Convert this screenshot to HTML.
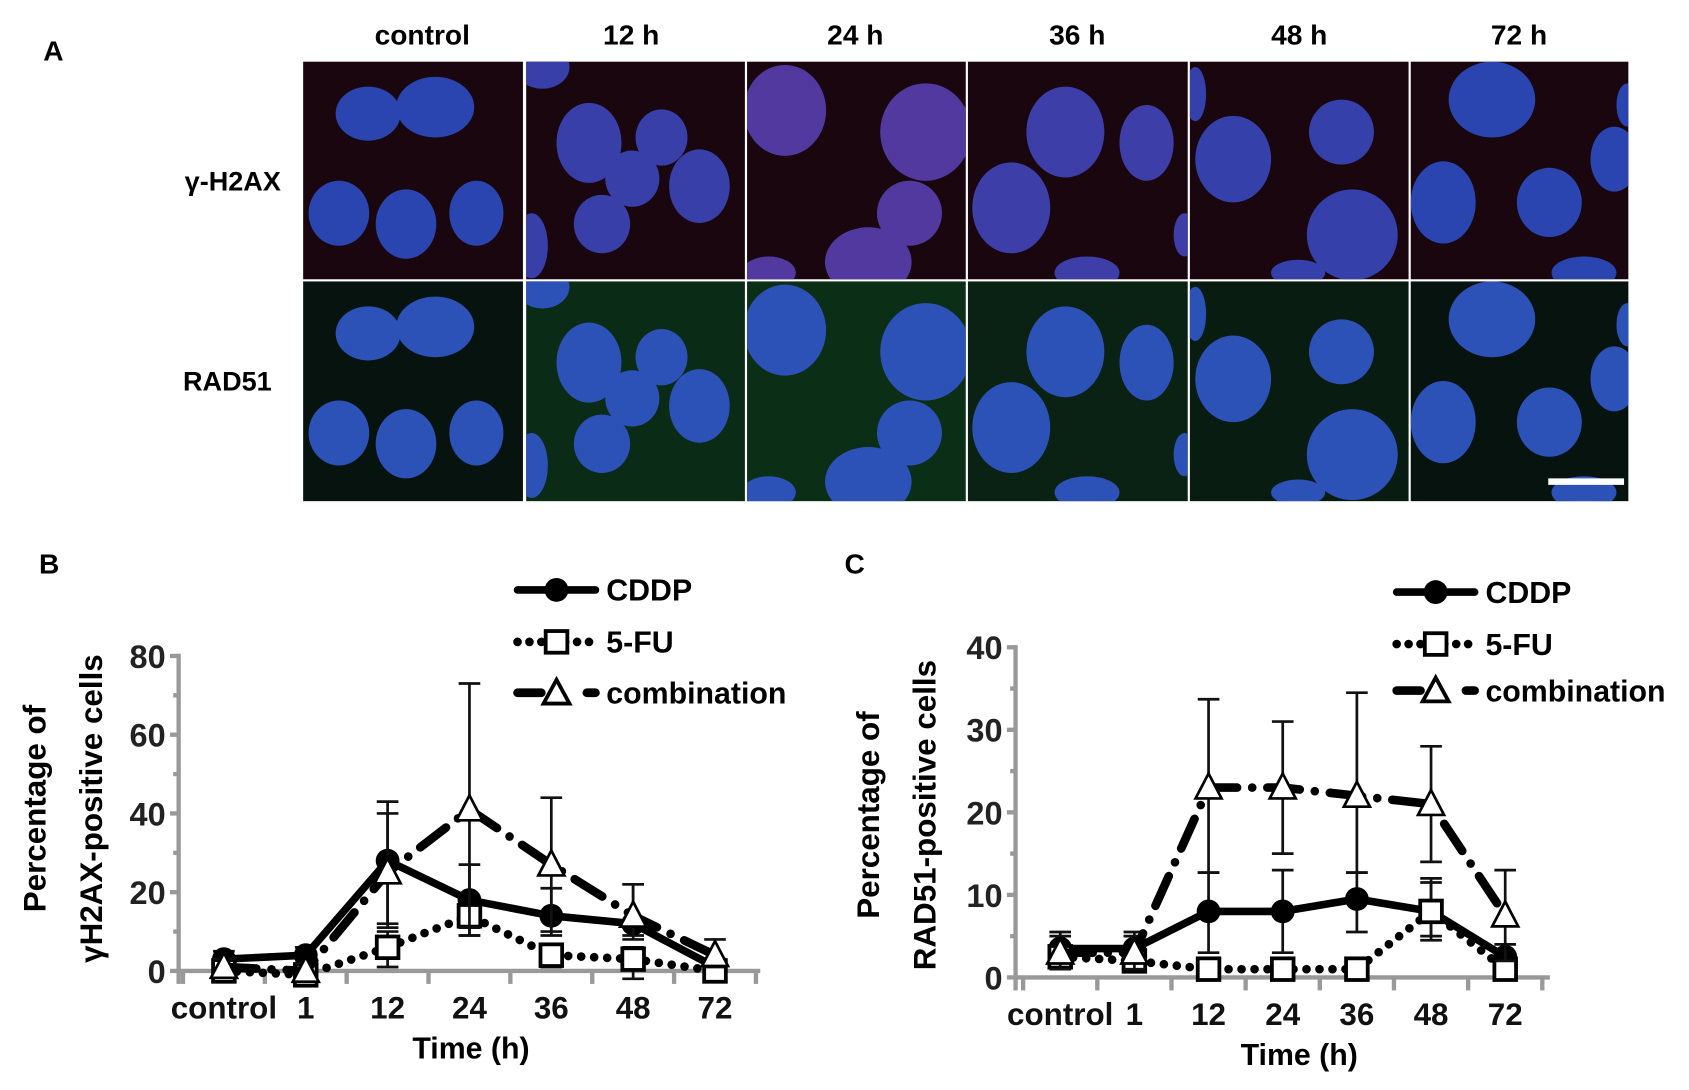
<!DOCTYPE html>
<html><head><meta charset="utf-8"><style>
html,body{margin:0;padding:0;background:#fff;}
svg{display:block;font-family:"Liberation Sans",Arial,sans-serif;font-weight:bold;}
</style></head><body>
<svg id="fig" width="1689" height="1090" viewBox="0 0 1560 1007" preserveAspectRatio="none" xmlns="http://www.w3.org/2000/svg">
<text x="40" y="56" font-size="26">A</text>
<g id="headers" font-size="26" text-anchor="middle">
<text x="390" y="41">control</text>
<text x="583" y="41">12 h</text>
<text x="790" y="41">24 h</text>
<text x="995" y="41">36 h</text>
<text x="1200" y="41">48 h</text>
<text x="1403" y="41">72 h</text>
</g>
<text x="215" y="176" font-size="25" text-anchor="middle">γ-H2AX</text>
<text x="210" y="361" font-size="25" text-anchor="middle">RAD51</text>
<g id="micro"></g>
<g id="chartB"></g>
<g id="chartC"></g>
</svg>
<script>
const categories=["control","1","12","24","36","48","72"];
const bCddp=[3,4,28,18,14,12,1];
const bCddpHi=[5,6,43,27,21,22,3];
const bCddpLo=[1,2,11,9,9,9,0];
const bFu=[0,-1,6,14,4,3,0];
const bFuHi=[1,0,10,16,6,6,1];
const bFuLo=[-1,-2,1,9,1,-2,-1];
const bComb=[1,0,25,41,27,14,4];
const bCombHi=[3,2,40,73,44,22,8];
const bCombLo=[0,-1,12,11,10,8,1];
const bTicks=[0,20,40,60,80];
const cCddp=[3.5,3.5,8,8,9.5,8,2.5];
const cCddpHi=[5.5,5.5,12.7,13,12.7,12,4];
const cCddpLo=[1.5,1.5,3,3,5.5,4.5,1];
const cFu=[2.5,2,1,1,1,8,1];
const cFuHi=[3.5,3,2,2,2,11.5,2];
const cFuLo=[1.5,1,0,0,0,5,0];
const cComb=[3,3,23,23,22,21,7.5];
const cCombHi=[5,5,33.7,31,34.5,28,13];
const cCombLo=[1,1,12.7,15,12.7,14,2];
const cTicks=[0,10,20,30,40];

const NS="http://www.w3.org/2000/svg";
function mk(tag,attrs,parent){const e=document.createElementNS(NS,tag);for(const k in attrs)e.setAttribute(k,attrs[k]);parent.appendChild(e);return e;}

const micro=document.getElementById('micro');
const colX=[280,485,689,893,1098,1302,1505];
const nuclei=[
 [[60,48,30,25],[122,42,36,28],[33,140,28,30],[95,150,28,32],[160,140,25,30]],
 [[58,75,30,37],[125,70,24,26],[98,108,25,26],[160,115,28,34],[70,150,26,27],[15,5,25,20],[5,170,15,30]],
 [[35,45,38,42],[165,65,42,45],[150,140,30,30],[112,185,40,32],[20,195,25,15]],
 [[90,65,36,42],[165,75,25,35],[40,135,36,42],[110,195,30,15],[200,160,10,20]],
 [[40,90,35,40],[140,65,30,30],[150,160,42,42],[100,195,25,12],[5,30,10,25]],
 [[75,35,40,35],[188,90,22,30],[30,130,30,38],[128,130,30,32],[160,195,30,15],[200,40,10,20]]];
const spotsRed=[0,0.4,1,0.5,0.3,0.1];
const greenBg=[0.05,0.45,0.5,0.3,0.2,0.05];
for(let r=0;r<2;r++){
 const y0=r===0?57:260, h=r===0?201:203;
 for(let c=0;c<6;c++){
  const x0=colX[c]+(c?1:0), w=colX[c+1]-colX[c]-2;
  const g=mk('g',{},micro);
  
  
  const cp=mk('clipPath',{id:'cp'+r+c},g);mk('rect',{x:x0,y:y0,width:w,height:h},cp);
  const gb=greenBg[c];
  const bg=r===0?'rgb(26,6,14)':`rgb(${6+gb*10|0},${16+gb*60|0},${14+gb*18|0})`;
  mk('rect',{x:x0,y:y0,width:w,height:h,fill:bg},g);
  const inner=mk('g',{'clip-path':`url(#cp${r}${c})`},g);
  nuclei[c].forEach((n)=>{
   mk('ellipse',{cx:x0+n[0],cy:y0+n[1],rx:n[2],ry:n[3],fill:r===0?'#2a44b0':'#2c52b8'},inner);
   if(r===0&&spotsRed[c]>0.2) mk('ellipse',{cx:x0+n[0],cy:y0+n[1],rx:n[2],ry:n[3],fill:'#b02078',opacity:spotsRed[c]*0.3},inner);
  });
 }
}
mk('line',{x1:1430,y1:445,x2:1500,y2:445,stroke:'#fff','stroke-width':6},micro);

function chart(gid,opt){
 const g=document.getElementById(gid);
 const X=i=>opt.x0+opt.step*(i+0.5)+opt.off;
 const Y=v=>opt.y0-(v/opt.ymax)*(opt.y0-opt.ytop);
 mk('text',{x:opt.lx,y:530,'font-size':26},g).textContent=opt.letter;
 const ax=mk('g',{stroke:'#999','stroke-width':4,fill:'none'},g);
 
 mk('line',{x1:opt.x0,y1:Y(opt.ymax)-2,x2:opt.x0,y2:opt.y0+12},ax);
 mk('line',{x1:opt.x0,y1:opt.y0,x2:opt.x0+opt.step*7+opt.off*2,y2:opt.y0},ax);
 for(let i=0;i<=7;i++){const tx=opt.x0+opt.off+opt.step*i;mk('line',{x1:tx,y1:opt.y0,x2:tx,y2:opt.y0+12},ax);}
 const t=opt.ticks;
 for(let k=0;k<t.length;k++){
  mk('line',{x1:opt.x0-8,y1:Y(t[k]),x2:opt.x0,y2:Y(t[k])},ax);
  if(k<t.length-1)mk('line',{x1:opt.x0-5,y1:Y((t[k]+t[k+1])/2),x2:opt.x0,y2:Y((t[k]+t[k+1])/2)},ax);
  const tl=mk('text',{x:opt.x0-12,y:Y(t[k])+11,'font-size':30,'text-anchor':'end',fill:'#222'},g);
  
  tl.textContent=t[k];
 }
 categories.forEach((c,i)=>{
  const tl=mk('text',{x:X(i),y:opt.y0+44,'font-size':29,'text-anchor':'middle',fill:'#111'},g);
  
  tl.textContent=c;
 });
 const xt=mk('text',{x:opt.timeX,y:opt.y0+81,'font-size':28,'text-anchor':'middle'},g);
 xt.textContent='Time (h)';
 const cy=opt.y0-150;
 const y1=mk('text',{x:opt.ylx,y:cy,'font-size':29,'text-anchor':'middle',transform:`rotate(-90 ${opt.ylx} ${cy})`},g);
 y1.textContent='Percentage of';
 const y2=mk('text',{x:opt.ylx+52,y:cy,'font-size':29,'text-anchor':'middle',transform:`rotate(-90 ${opt.ylx+52} ${cy})`},g);
 y2.textContent=opt.ytitle;
 const series=[
  {name:'CDDP',v:opt.cddp,hi:opt.cddpHi,lo:opt.cddpLo,dash:null,w:7,m:'circle'},
  {name:'5-FU',v:opt.fu,hi:opt.fuHi,lo:opt.fuLo,dash:'0 12',w:8,m:'square'},
  {name:'combination',v:opt.comb,hi:opt.combHi,lo:opt.combLo,dash:'30 14 0 14',w:8,m:'triangle'}];
 series.forEach((s,si)=>{
  const sg=mk('g',{},g);
  
  s.v.forEach((v,i)=>{
   const x=X(i);
   const eb=mk('g',{stroke:'#111','stroke-width':2.5},sg);
   
   mk('line',{x1:x,y1:Y(s.hi[i]),x2:x,y2:Y(s.lo[i])},eb);
   mk('line',{x1:x-10,y1:Y(s.hi[i]),x2:x+10,y2:Y(s.hi[i])},eb);
   mk('line',{x1:x-10,y1:Y(s.lo[i]),x2:x+10,y2:Y(s.lo[i])},eb);
  });
  const pts=s.v.map((v,i)=>X(i)+','+Y(v)).join(' ');
  const pl=mk('polyline',{points:pts,fill:'none',stroke:'#000','stroke-width':s.w,'stroke-linecap':'round','stroke-linejoin':'round'},sg);
  if(s.dash)pl.setAttribute('stroke-dasharray',s.dash);
  
  s.v.forEach((v,i)=>{
   const x=X(i),y=Y(v);let mm;
   if(s.m==='circle')mm=mk('circle',{cx:x,cy:y,r:11,fill:'#000'},sg);
   else if(s.m==='square')mm=mk('rect',{x:x-10,y:y-10,width:20,height:20,fill:'#fff',stroke:'#000','stroke-width':3.5},sg);
   else mm=mk('polygon',{points:`${x},${y-13} ${x-12},${y+10} ${x+12},${y+10}`,fill:'#fff',stroke:'#000','stroke-width':2.5},sg);
   
  });
  const ly=opt.legY[si], lx=opt.legX;
  const lg=mk('g',{},g);
  
  const ll=mk('line',{x1:lx,y1:ly,x2:lx+72,y2:ly,stroke:'#000','stroke-width':s.w,'stroke-linecap':'round'},lg);
  if(s.dash)ll.setAttribute('stroke-dasharray',si===1?'0 11':'22 12 0 30');
  const mx=lx+36;
  if(s.m==='circle')mk('circle',{cx:mx,cy:ly,r:11,fill:'#000'},lg);
  else if(s.m==='square')mk('rect',{x:mx-10,y:ly-10,width:20,height:20,fill:'#fff',stroke:'#000','stroke-width':3.5},lg);
  else mk('polygon',{points:`${mx},${ly-12} ${mx-12},${ly+10} ${mx+12},${ly+10}`,fill:'#fff',stroke:'#000','stroke-width':3.5},lg);
  mk('text',{x:lx+82,y:ly+10,'font-size':28},lg).textContent=s.name;
 });
}
chart('chartB',{letter:'B',lx:36,x0:165,off:4,step:75.6,y0:897,ytop:606,ymax:80,ticks:bTicks,
 cddp:bCddp,cddpHi:bCddpHi,cddpLo:bCddpLo,fu:bFu,fuHi:bFuHi,fuLo:bFuLo,comb:bComb,combHi:bCombHi,combLo:bCombLo,
 legX:478,legY:[545,593,640],timeX:435,ylx:42,ytitle:'γH2AX-positive cells'});
chart('chartC',{letter:'C',lx:780,x0:938,off:7,step:68.5,y0:903,ytop:598,ymax:40,ticks:cTicks,
 cddp:cCddp,cddpHi:cCddpHi,cddpLo:cCddpLo,fu:cFu,fuHi:cFuHi,fuLo:cFuLo,comb:cComb,combHi:cCombHi,combLo:cCombLo,
 legX:1290,legY:[547,595,638],timeX:1200,ylx:812,ytitle:'RAD51-positive cells'});
</script>
</body></html>
